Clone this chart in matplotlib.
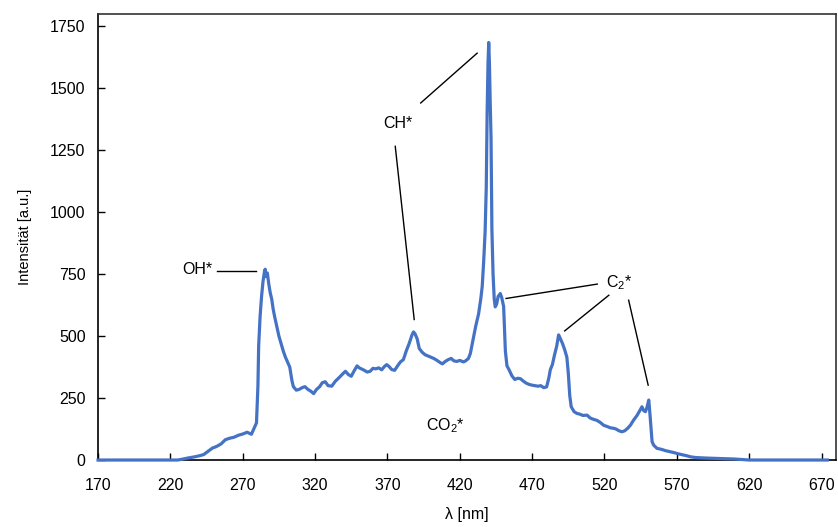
import matplotlib
matplotlib.use("Agg")
import matplotlib.pyplot as plt

plt.rcParams['font.family'] = ['Liberation Sans', 'DejaVu Sans']
plt.rcParams['mathtext.default'] = 'regular'

wavelength = [170, 225, 228, 232, 236, 240, 243, 246, 249, 252, 255, 258, 261, 264, 267, 270, 273, 276,
              278, 279.5, 280.5, 281, 282, 283, 284, 285, 285.5, 286, 287, 288, 289, 290, 291, 292, 293.5,
              295, 296.5, 298, 299.5, 301, 302.5, 304, 305, 307, 309, 311, 313, 315, 317, 319, 321, 323,
              325, 327, 329, 331.5, 334, 337, 339.5, 341, 343, 345, 347, 349, 350.5, 352, 354, 356, 358,
              360, 362, 364, 366, 368, 369.5, 371, 373, 375, 377, 379, 381, 383, 385, 387, 388, 389, 390.5,
              392, 394, 396, 398, 400, 402, 404, 406, 408, 410, 412, 414, 416, 418, 420, 422.5, 424, 426,
              427.3, 429, 431, 433, 434.5, 435.5, 436.5, 437.5, 438.3, 438.9, 439.5, 440, 440.5, 441,
              441.6, 442.2, 443, 443.8, 444.5, 445.5, 446.5, 448, 449, 450.3, 451, 451.5, 452.6, 454, 456,
              458, 460, 462, 464, 466, 468, 470, 472, 474, 476, 478, 480, 481.5, 482.6, 484, 485.5, 487,
              488.3, 489.5, 491, 492.5, 494, 495, 496, 497, 499, 501, 503, 505, 508, 510, 512, 514.8, 517,
              519.5, 522, 524, 526.4, 528, 530, 532, 534, 536, 538, 540, 542.5, 544, 545.9, 547, 548.3,
              549.5, 550.6, 551.5, 552.9, 554, 556.3, 558, 560, 562, 565.6, 568, 571, 574.8, 577, 579.4,
              583, 590, 600, 610, 615, 620, 674]
intensity = [0, 0, 3, 8, 12, 17, 22, 35, 48, 55, 65, 82, 88, 92, 100, 105, 112, 104,
             130, 150, 300, 460, 580, 660, 720, 760, 770, 740, 755, 710, 675, 650, 610, 580, 540,
             500, 470, 440, 415, 395, 375, 320, 296, 282, 285, 292, 296, 285, 278, 268, 285, 295,
             312, 316, 300, 298, 318, 335, 350, 358, 345, 338, 360, 380, 372, 368, 362, 355, 358,
             370, 368, 372, 364, 378, 385, 378, 365, 362, 380, 396, 405, 440, 470, 505, 517, 510, 490,
             450, 435, 425, 420, 415, 410, 403, 395, 388, 398, 405, 410, 400, 398, 402, 396, 400, 410,
             430, 480, 540, 590, 650, 700, 800, 920, 1100, 1400, 1600, 1685, 1600, 1450,
             1300, 930, 750, 650, 618, 630, 660, 672, 655, 620, 520, 440, 380, 365, 340,
             325, 330, 328, 318, 310, 305, 302, 300, 298, 300, 292, 295, 330, 365, 385, 425, 460,
             505, 490, 470, 445, 415, 350, 260, 215, 195, 188, 185, 180, 181, 170, 165, 160, 152,
             140, 135, 130, 128, 125, 118, 114, 118, 128, 141, 160, 180, 195, 215, 200, 195,
             215, 242, 180, 74, 60, 47, 45, 42, 38, 33, 30, 25, 20, 17, 13,
             10, 8, 6, 4, 2, 0, 0]

x_ticks = [170, 220, 270, 320, 370, 420, 470, 520, 570, 620, 670]
y_ticks = [0, 250, 500, 750, 1000, 1250, 1500, 1750]

# annotations: label, text position, leader lines
labels = [
    ("OH*", (238.5, 770), [((252, 762), (279, 762))]),
    ("CH*", (377.5, 1359), [((393, 1441), (432, 1642)), ((375.4, 1266), (388.5, 567))]),
    ("C$_2$*", (530.5, 714), [((515, 710), (452, 652)), ((523, 665), (492.5, 521)),
                              ((536.7, 645), (550.2, 302))]),
    ("CO$_2$*", (410, 137), []),
]

fs = 11.5

fig = plt.figure(figsize=(8.38, 5.27), dpi=100)
ax = fig.add_axes([0.117, 0.1271, 0.8806, 0.8463])

ax.plot(wavelength, intensity, color='#4472C4', lw=2.3, zorder=5, clip_on=False,
        solid_joinstyle='round')

for text, pos, lines in labels:
    ax.text(pos[0], pos[1], text, ha='center', va='center', fontsize=fs, color='black')
    for (x0, y0), (x1, y1) in lines:
        ax.plot([x0, x1], [y0, y1], color='black', lw=1.0)

ax.set_xlim(170, 680)
ax.set_ylim(0, 1800)
ax.set_xticks(x_ticks)
ax.set_yticks(y_ticks)
ax.tick_params(direction='in', length=5, width=1.0, labelsize=fs, colors='black')
ax.tick_params(axis='y', pad=9)
ax.tick_params(axis='x', pad=13)
for s in ax.spines.values():
    s.set_linewidth(1.2)
ax.spines['top'].set_color('#333333')
ax.spines['right'].set_color('#333333')
ax.spines['left'].set_color('black')
ax.spines['bottom'].set_color('black')

ax.set_xlabel('λ [nm]', fontsize=fs, labelpad=10)
ax.set_ylabel('Intensität [a.u.]', fontsize=10.5, labelpad=13)

fig.savefig('out.png', dpi=100)
